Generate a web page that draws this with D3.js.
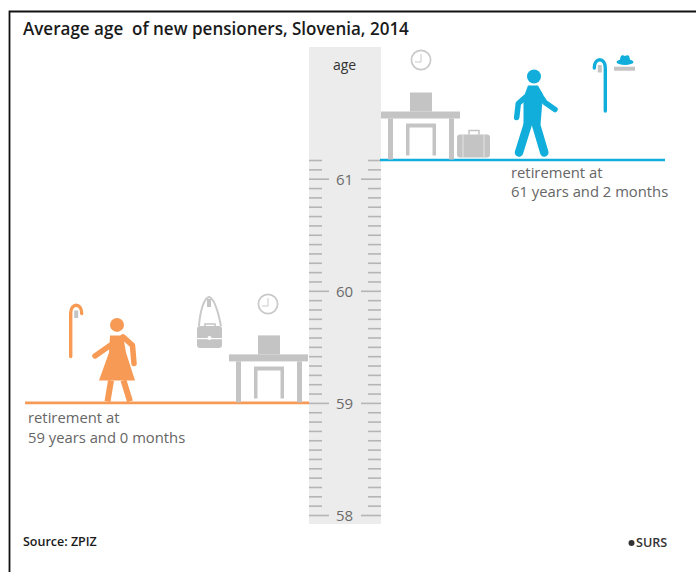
<!DOCTYPE html>
<html>
<head>
<meta charset="utf-8">
<script src="https://cdnjs.cloudflare.com/ajax/libs/d3/7.8.5/d3.min.js"></script>
<style>
  html, body { margin: 0; padding: 0; background: #fff; }
  svg { display: block; }
  text { font-family: "Open Sans", "Noto Sans", sans-serif; }
</style>
</head>
<body>
<div id="chart"></div>
<script>
/** --- DATA --- */
const groups = ['women', 'men'];
const years = [59, 61];
const months = [0, 2];
const ageTicks = [58, 59, 60, 61];
const retireLabels = ['59 years and 0 months', '61 years and 2 months'];
const groupColors = ['#f79a55', '#12aedb'];

const title = 'Average age  of new pensioners, Slovenia, 2014';
const source = 'Source: ZPIZ';

/** --- DIMENSIONS + MISC --- */
const width = 696;
const height = 572;
const grey = '#c4c4c4';

const svg = d3.select('#chart').append('svg')
  .attr('width', width)
  .attr('height', height);

/** --- SCALES --- */
const yScale = d3.scaleLinear()
  .domain([58, 61])
  .range([515.5, 179.2]);

const ruleLeft = 309;
const ruleRight = 381;

const ages = years.map((y, i) => y + months[i] / 12);

// frame, only left and top are in the picture
svg.append('path')
  .attr('d', 'M9.5,572V11.5H696')
  .attr('fill', 'none')
  .attr('stroke', '#111')
  .attr('stroke-width', 1.8);

svg.append('text')
  .attr('x', 23).attr('y', 34.5)
  .attr('font-size', 17.05).attr('font-weight', 600)
  .attr('fill', '#1a1a1a')
  .style('white-space', 'pre')
  .text(title);

/** --- RULER --- */
svg.append('rect')
  .attr('x', ruleLeft).attr('y', 47)
  .attr('width', ruleRight - ruleLeft).attr('height', 477)
  .attr('fill', '#ececec');

svg.append('text')
  .attr('x', 344.5).attr('y', 70)
  .attr('text-anchor', 'middle')
  .attr('font-size', 14)
  .attr('fill', '#333')
  .text('age');

const minorTicks = d3.range(0, 12 * 3 + 3).map(i => 58 + i / 12);

const ruler = svg.append('g');
minorTicks.forEach((t, i) => {
  const major = i % 12 === 0;
  const len = major ? 20 : 13;
  ruler.append('line')
    .attr('x1', ruleLeft).attr('x2', ruleLeft + len)
    .attr('y1', yScale(t)).attr('y2', yScale(t));
  ruler.append('line')
    .attr('x1', ruleRight - len).attr('x2', ruleRight)
    .attr('y1', yScale(t)).attr('y2', yScale(t));
});
ruler.selectAll('line')
  .attr('stroke', '#b5b5b5')
  .attr('stroke-width', 1.6);

svg.selectAll('text.tick')
  .data(ageTicks)
  .join('text')
  .attr('class', 'tick')
  .attr('x', 344.5)
  .attr('y', d => yScale(d) + 5.5)
  .attr('text-anchor', 'middle')
  .attr('font-size', 15)
  .attr('fill', '#6b6b6b')
  .text(d => d);

/** --- BASELINES --- */
const lineX = [[25, ruleLeft], [ruleRight - 1, 665]];
svg.selectAll('line.base')
  .data(ages)
  .join('line')
  .attr('class', 'base')
  .attr('x1', (d, i) => lineX[i][0])
  .attr('x2', (d, i) => lineX[i][1])
  .attr('y1', d => yScale(d) - 0.5)
  .attr('y2', d => yScale(d) - 0.5)
  .attr('stroke', (d, i) => groupColors[i])
  .attr('stroke-width', 2.6);

const labelX = [28, 511];
const labelDy = [20, 17];
ages.forEach((a, i) => {
  const y0 = yScale(a);
  svg.append('text')
    .attr('x', labelX[i]).attr('y', y0 + labelDy[i])
    .attr('font-size', 14.8).attr('fill', '#666')
    .text('retirement at');
  svg.append('text')
    .attr('x', labelX[i]).attr('y', y0 + labelDy[i] + 19.5)
    .attr('font-size', 14.8).attr('fill', '#666')
    .text(retireLabels[i]);
});

/** --- ICONS (local coordinates, base of the icon at y=0) --- */
function desk(x, y0) {
  const g = svg.append('g').attr('transform', `translate(${x},${y0})`).attr('fill', grey);
  g.append('rect').attr('x', 0).attr('y', -48).attr('width', 79).attr('height', 7);
  g.append('rect').attr('x', 7).attr('y', -41).attr('width', 5).attr('height', 41);
  g.append('rect').attr('x', 68).attr('y', -41).attr('width', 5).attr('height', 41);
  g.append('rect').attr('x', 29).attr('y', -67).attr('width', 22).attr('height', 19);
  g.append('path').attr('d', 'M25,-4V-36H55V-4H51.5V-32H28.5V-4Z');
}

function clock(x, y) {
  const g = svg.append('g').attr('transform', `translate(${x},${y})`);
  g.append('circle').attr('r', 9.6).attr('fill', '#fff').attr('stroke', '#c9c9c9').attr('stroke-width', 1.7);
  g.append('path').attr('d', 'M0,-6V2H-6').attr('fill', 'none').attr('stroke', '#c9c9c9').attr('stroke-width', 1);
}

// dir: side the hook bends to, 1 right, -1 left
function cane(x, y, color, dir) {
  const g = svg.append('g').attr('transform', `translate(${x},${y}) scale(${dir},1)`);
  g.append('rect').attr('x', 3.5).attr('y', 5).attr('width', 4).attr('height', 7.5).attr('fill', grey);
  g.append('path')
    .attr('d', 'M0,51V8C0,-3 11,-3 11,8')
    .attr('fill', 'none').attr('stroke', color)
    .attr('stroke-width', 3.4).attr('stroke-linecap', 'round');
}

desk(229, yScale(ages[0]) - 1);
clock(268, 304);
cane(70.7, 305.5, groupColors[0], 1);

desk(381, yScale(ages[1]) - 1);
clock(421, 60);
cane(605.3, 60, groupColors[1], -1);

// handbag on the hook
const bag = svg.append('g').attr('transform', 'translate(209,297)');
bag.append('path')
  .attr('d', 'M-10,29C-9,14 -5,1 0,0C5,1 9,14 12,29')
  .attr('fill', 'none').attr('stroke', '#c9c9c9').attr('stroke-width', 2);
bag.append('rect').attr('x', -2).attr('y', 2).attr('width', 4).attr('height', 8).attr('fill', grey);
bag.append('path').attr('d', 'M-4,30V27H6V30').attr('fill', 'none').attr('stroke', grey).attr('stroke-width', 1.6);
bag.append('rect').attr('x', -12).attr('y', 29).attr('width', 25).attr('height', 22).attr('rx', 3).attr('fill', grey);
bag.append('rect').attr('x', -12).attr('y', 41).attr('width', 25).attr('height', 1.2).attr('fill', '#fff');
bag.append('circle').attr('cx', 0.5).attr('cy', 41).attr('r', 2).attr('fill', '#fff');

// suitcase
const suit = svg.append('g').attr('transform', `translate(457,${yScale(ages[1]) - 3})`);
suit.append('rect').attr('x', 0).attr('y', -23).attr('width', 33).attr('height', 23).attr('rx', 3).attr('fill', grey);
suit.append('path').attr('d', 'M12,-23V-27H22V-23').attr('fill', 'none').attr('stroke', grey).attr('stroke-width', 1.5);
suit.selectAll('line').data([6, 27]).join('line')
  .attr('x1', d => d).attr('x2', d => d).attr('y1', -23).attr('y2', 0)
  .attr('stroke', '#e4e4e4').attr('stroke-width', 1);

// hat on shelf
const hat = svg.append('g').attr('transform', 'translate(625,66)').attr('fill', groupColors[1]);
hat.append('ellipse').attr('cx', 0).attr('cy', -4).attr('rx', 8.5).attr('ry', 3);
hat.append('path').attr('d', 'M-5,-5C-5,-12 -2,-11 0,-10C2,-11 5,-12 5,-5Z');
svg.append('rect').attr('x', 614).attr('y', 66.7).attr('width', 21).attr('height', 4).attr('fill', grey);

// woman
const woman = svg.append('g').attr('transform', `translate(117,${yScale(ages[0]) - 1})`);
woman.append('circle').attr('cx', 0).attr('cy', -77.5).attr('r', 7).attr('fill', groupColors[0]);
woman.append('path')
  .attr('d', 'M-7,-67H6L9,-50L18,-22H-18L-8,-50Z')
  .attr('fill', groupColors[0]);
woman.append('path')
  .attr('d', 'M6,-65.5L15.5,-57L17,-39M-7,-57L-22,-46.5')
  .attr('stroke', groupColors[0]).attr('stroke-width', 5.5)
  .attr('stroke-linecap', 'round').attr('stroke-linejoin', 'round').attr('fill', 'none');
woman.append('path')
  .attr('d', 'M-6,-22L-9.5,-1M6.5,-22L13,-1')
  .attr('stroke', groupColors[0]).attr('stroke-width', 6).attr('fill', 'none');

// man
const man = svg.append('g').attr('transform', `translate(534,${yScale(ages[1])})`);
man.append('circle').attr('cx', 0).attr('cy', -84).attr('r', 7).attr('fill', groupColors[1]);
man.append('path')
  .attr('d', 'M-6,-75H4L9,-66L6.5,-36H-10.5L-10.5,-63Z')
  .attr('fill', groupColors[1]);
man.append('path')
  .attr('d', 'M-9,-63L-15.7,-57L-17.3,-43M4.3,-68L11,-58L21,-51')
  .attr('stroke', groupColors[1]).attr('stroke-width', 5.5)
  .attr('stroke-linecap', 'round').attr('stroke-linejoin', 'round').attr('fill', 'none');
man.append('path')
  .attr('d', 'M-6.3,-36L-15,-8M2,-36L10.3,-8')
  .attr('stroke', groupColors[1]).attr('stroke-width', 8.5)
  .attr('stroke-linecap', 'round').attr('fill', 'none');

/** --- FOOTER --- */
svg.append('text')
  .attr('x', 23).attr('y', 545.5)
  .attr('font-size', 12.5).attr('font-weight', 600)
  .attr('fill', '#1a1a1a')
  .text(source);

svg.append('circle').attr('cx', 631.5).attr('cy', 543).attr('r', 3).attr('fill', '#333');
svg.append('text')
  .attr('x', 636).attr('y', 546.5)
  .attr('font-size', 12.6).attr('font-weight', 600)
  .attr('fill', '#333')
  .text('SURS');
</script>
</body>
</html>
